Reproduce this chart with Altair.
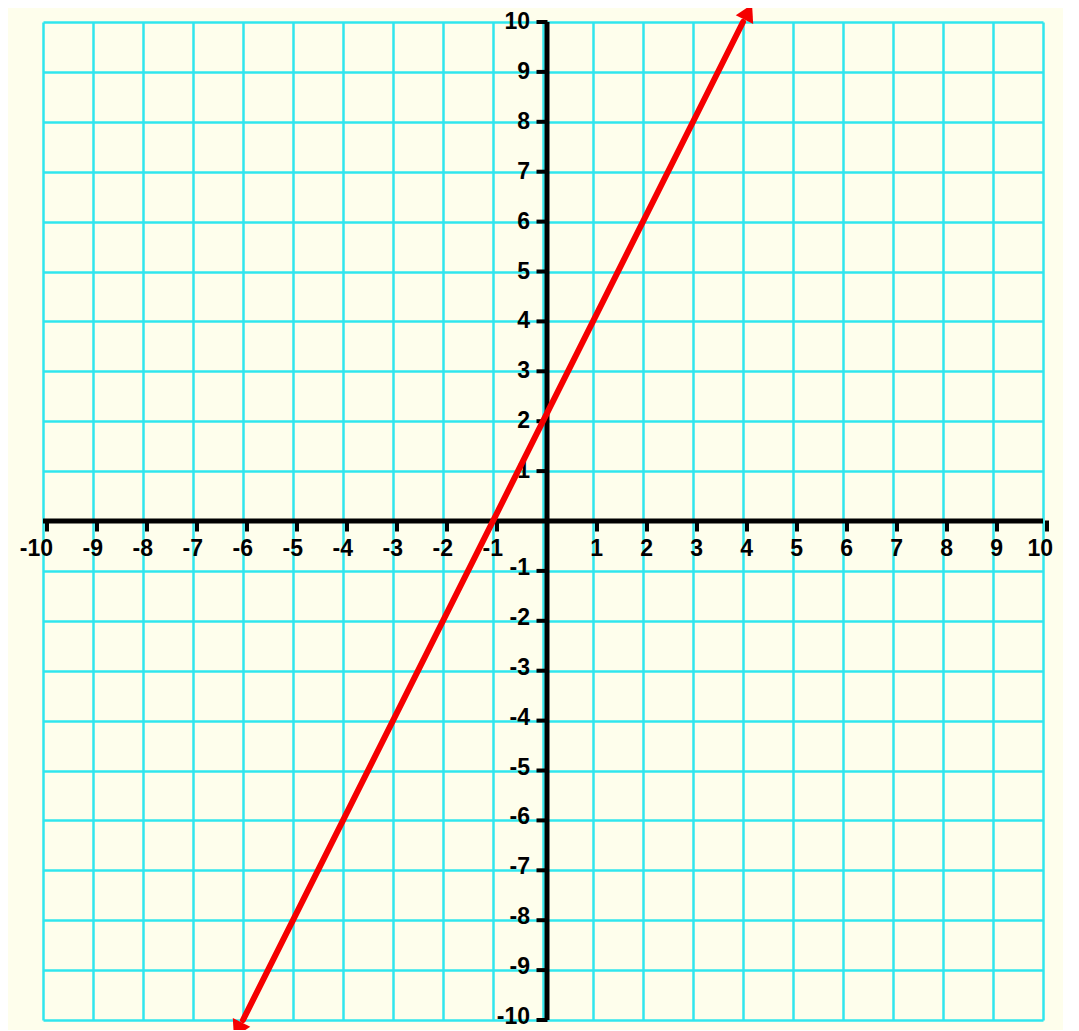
import altair as alt
import pandas as pd

# ---- data ----
grid_values = list(range(-10, 11))
x_label_values = [v for v in range(-10, 11) if v != 0]
y_label_values = [v for v in range(-10, 11) if v != 0]
line_x = [-6, 4]
line_y = [-10, 10]
arrow_top = (4.08, 10.15)
arrow_bottom = (-6.08, -10.15)

# ---- styles ----
BG = "#FEFEEC"
GRID = "#30E6EE"
RED = "#F50000"
FONT = "Liberation Sans"

sx = alt.Scale(domain=[-10, 10], nice=False, zero=False)
sy = alt.Scale(domain=[-10, 10], nice=False, zero=False)
ax = alt.Axis(values=grid_values, grid=True, labels=False, ticks=False, domain=False,
              title=None, gridColor=GRID, gridWidth=2.5, gridOpacity=1)

def X(f="x"):
    return alt.X(f"{f}:Q", scale=sx, axis=ax)

def Y(f="y"):
    return alt.Y(f"{f}:Q", scale=sy, axis=ax)

# grid carrier (invisible points)
grid_df = pd.DataFrame({"x": grid_values, "y": grid_values})
grid_layer = alt.Chart(grid_df).mark_point(opacity=0).encode(x=X(), y=Y())

# axis lines
haxis_df = pd.DataFrame({"x": [-10], "x2": [10], "y": [0]})
haxis = alt.Chart(haxis_df).mark_rule(color="black", strokeWidth=5).encode(
    x=X(), x2="x2:Q", y=Y())
vaxis_df = pd.DataFrame({"x": [0], "y": [-10], "y2": [10]})
vaxis = alt.Chart(vaxis_df).mark_rule(color="black", strokeWidth=5, xOffset=4).encode(
    x=X(), y=Y(), y2="y2:Q")

# tick marks
xt_df = pd.DataFrame({"x": grid_values, "y": [0] * len(grid_values)})
xticks = alt.Chart(xt_df).mark_tick(orient="vertical", color="black", size=11,
                                     thickness=4, xOffset=4, yOffset=5, opacity=1).encode(
    x=X(), y=Y())
yt_df = pd.DataFrame({"x": [0] * len(grid_values), "y": grid_values})
yticks = alt.Chart(yt_df).mark_tick(orient="horizontal", color="black", size=11,
                                     thickness=4, xOffset=-1, opacity=1).encode(
    x=X(), y=Y())

# labels
xl_df = pd.DataFrame({"x": x_label_values, "y": [0] * len(x_label_values),
                      "label": [str(v) for v in x_label_values]})
xlabels = alt.Chart(xl_df).mark_text(font=FONT, fontWeight="bold", fontSize=23,
                                      align="right", baseline="middle", dx=10, dy=28,
                                      color="black").encode(x=X(), y=Y(), text="label:N")
yl_df = pd.DataFrame({"x": [0] * len(y_label_values), "y": y_label_values,
                      "label": [str(v) for v in y_label_values]})
ylabels_pos = alt.Chart(yl_df).transform_filter("datum.y > 0").mark_text(
    font=FONT, fontWeight="bold", fontSize=23, align="right", baseline="middle",
    dx=-13, dy=0, color="black").encode(x=X(), y=Y(), text="label:N")
ylabels_neg = alt.Chart(yl_df).transform_filter("datum.y < 0").mark_text(
    font=FONT, fontWeight="bold", fontSize=23, align="right", baseline="middle",
    dx=-13, dy=-3, color="black").encode(x=X(), y=Y(), text="label:N")

# red line
line_df = pd.DataFrame({"x": line_x, "y": line_y})
red_line = alt.Chart(line_df).mark_line(color=RED, strokeWidth=6, strokeCap="round").encode(
    x=X(), y=Y())

top_df = pd.DataFrame({"x": [arrow_top[0]], "y": [arrow_top[1]]})
arrow1 = alt.Chart(top_df).mark_point(shape="triangle", filled=True, color=RED, opacity=1,
                                       size=380, angle=26.57).encode(x=X(), y=Y())
bot_df = pd.DataFrame({"x": [arrow_bottom[0]], "y": [arrow_bottom[1]]})
arrow2 = alt.Chart(bot_df).mark_point(shape="triangle", filled=True, color=RED, opacity=1,
                                       size=380, angle=206.57).encode(x=X(), y=Y())

chart = alt.layer(grid_layer, haxis, vaxis, xticks, yticks, xlabels, ylabels_pos,
                  ylabels_neg, red_line, arrow1, arrow2).properties(
    width=1000, height=998,
    autosize="none",
    padding={"left": 35, "top": 14, "right": 20, "bottom": 10},
    background=BG,
).configure_view(strokeWidth=0)

chart.save("out.html", embed_options={"renderer": "svg", "actions": False})
